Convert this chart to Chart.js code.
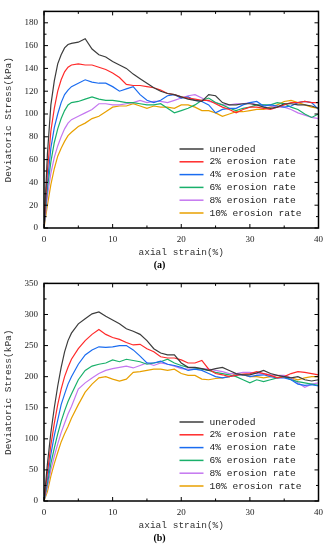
<!DOCTYPE html>
<html>
<head>
<meta charset="utf-8">
<script src="https://cdn.jsdelivr.net/npm/chart.js@4"></script>
<style>
  body { margin: 0; background: #fff; }
  .box { position: absolute; left: 0; width: 329px; }
</style>
</head>
<body>
<div class="box" style="top:0;height:272px"><canvas id="chartA"></canvas></div>
<div class="box" style="top:272px;height:278px"><canvas id="chartB"></canvas></div>
<script>
const strain = [0, 0.5, 1, 1.5, 2, 2.5, 3, 3.5, 4, 5, 6, 7, 8, 9, 10, 11, 12, 13, 14, 15, 16, 17, 18, 19, 20,
  21, 22, 23, 24, 25, 26, 27, 28, 29, 30, 31, 32, 33, 34, 35, 36, 37, 38, 39, 40];

const seriesNames = ['uneroded', '2% erosion rate', '4% erosion rate', '6% erosion rate', '8% erosion rate', '10% erosion rate'];
const seriesColors = ['#3c3c3c', '#ff2a2a', '#1a6cf0', '#19b06a', '#c477f0', '#e8a000'];

// (a)
const aUneroded = [0, 65, 108, 129, 144, 152, 158, 161, 162, 163, 166, 157, 152, 150, 146, 143, 140, 135, 131, 127, 123, 120, 118, 117, 115,
  113, 112, 111, 117, 116, 110, 108, 108, 109, 109, 108, 106, 105, 106, 109, 109, 108, 108, 107, 105];
const aRate2 = [0, 50, 85, 105, 120, 130, 137, 141, 143, 144, 143, 143, 141, 139, 136, 132, 126, 125, 125, 124, 123, 121, 118, 117, 115,
  114, 113, 112, 112, 109, 106, 104, 101, 104, 106, 106, 105, 104, 106, 108, 110, 110, 111, 110, 110];
const aRate4 = [0, 40, 70, 88, 100, 110, 117, 121, 124, 127, 130, 128, 127, 127, 124, 120, 122, 124, 117, 112, 110, 112, 116, 117, 114,
  115, 112, 111, 108, 101, 104, 105, 105, 108, 110, 111, 107, 108, 107, 106, 107, 110, 111, 110, 104];
const aRate6 = [0, 35, 58, 75, 87, 96, 103, 108, 110, 111, 113, 115, 113, 112, 112, 111, 110, 110, 109, 108, 108, 109, 105, 101, 103,
  105, 108, 112, 114, 110, 108, 105, 103, 105, 106, 108, 108, 108, 110, 109, 106, 104, 100, 97, 100];
const aRate8 = [0, 28, 48, 62, 72, 80, 87, 92, 95, 98, 101, 104, 109, 109, 108, 108, 109, 110, 112, 110, 111, 111, 110, 112, 114,
  116, 117, 114, 111, 110, 108, 108, 109, 109, 110, 108, 108, 107, 106, 106, 104, 101, 99, 97, 96];
const aRate10 = [0, 20, 38, 52, 63, 70, 76, 81, 84, 89, 92, 96, 98, 102, 106, 107, 107, 109, 107, 105, 107, 106, 106, 105, 108,
  108, 106, 103, 103, 101, 98, 100, 102, 102, 103, 104, 104, 106, 108, 111, 112, 110, 108, 106, 105];

// (b)
const bUneroded = [0, 60, 110, 150, 185, 215, 240, 258, 270, 285, 293, 301, 304, 297, 291, 285, 277, 273, 268, 258, 245, 238, 235, 235, 222,
  215, 215, 213, 210, 213, 215, 210, 205, 203, 203, 206, 210, 205, 202, 200, 198, 200, 195, 193, 195];
const bRate2 = [0, 45, 90, 125, 155, 180, 200, 215, 228, 245, 258, 268, 276, 268, 263, 260, 255, 251, 252, 245, 240, 232, 230, 230, 227,
  222, 222, 226, 212, 205, 203, 200, 202, 204, 205, 208, 205, 202, 198, 200, 205, 208, 207, 205, 203];
const bRate4 = [0, 35, 75, 105, 130, 155, 172, 188, 200, 220, 235, 243, 248, 247, 248, 250, 250, 243, 233, 222, 222, 225, 220, 218, 215,
  210, 212, 210, 205, 200, 198, 200, 203, 203, 200, 202, 203, 200, 198, 198, 195, 188, 186, 187, 185];
const bRate6 = [0, 28, 60, 85, 108, 128, 145, 160, 172, 195, 210, 217, 220, 222, 227, 224, 228, 226, 224, 220, 222, 224, 228, 222, 218,
  215, 214, 212, 210, 207, 205, 203, 200, 195, 190, 195, 192, 195, 198, 200, 195, 192, 190, 188, 186];
const bRate8 = [0, 22, 50, 72, 92, 110, 125, 140, 152, 180, 190, 198, 205, 210, 213, 215, 217, 214, 218, 222, 218, 222, 220, 217, 213,
  212, 212, 213, 212, 210, 208, 205, 205, 207, 207, 205, 205, 203, 202, 202, 198, 190, 183, 188, 190];
const bRate10 = [0, 15, 40, 60, 78, 95, 108, 120, 133, 155, 175, 188, 198, 200, 196, 193, 196, 207, 208, 210, 212, 212, 210, 212, 205,
  202, 202, 196, 195, 197, 198, 200, 205, 203, 200, 200, 198, 200, 202, 200, 198, 195, 198, 200, 200];

const xTicks = { min: 0, max: 40, step: 10 };
const yTicksA = { min: 0, max: 190, step: 20 };
const yTicksB = { min: 0, max: 350, step: 50 };

const monoFont = 'Liberation Mono';
const serifFont = 'Liberation Serif';

// frame, inward ticks and the legend inside the plot
const framePlugin = {
    id: 'frame',
    afterDraw(chart) {
        const ctx = chart.ctx;
        const { left, right, top, bottom } = chart.chartArea;
        const xs = chart.scales.x, ys = chart.scales.y;
        ctx.save();
        ctx.strokeStyle = '#000';
        ctx.lineWidth = 1.5;
        ctx.strokeRect(left, top, right - left, bottom - top);

        ctx.lineWidth = 1;
        const xo = chart.options.scales.x, yo = chart.options.scales.y;
        for (let v = xo.min; v <= xo.max; v += xo.ticks.stepSize / 2) {
            const px = xs.getPixelForValue(v);
            const len = (v % xo.ticks.stepSize === 0) ? 4 : 2.5;
            ctx.beginPath();
            ctx.moveTo(px, bottom); ctx.lineTo(px, bottom - len);
            ctx.moveTo(px, top); ctx.lineTo(px, top + len);
            ctx.stroke();
        }
        for (let v = yo.min; v <= yo.max; v += yo.ticks.stepSize / 2) {
            const py = ys.getPixelForValue(v);
            const len = (v % yo.ticks.stepSize === 0) ? 4 : 2.5;
            ctx.beginPath();
            ctx.moveTo(left, py); ctx.lineTo(left + len, py);
            ctx.moveTo(right, py); ctx.lineTo(right - len, py);
            ctx.stroke();
        }

        // legend
        ctx.font = '9.6px ' + monoFont;
        ctx.textBaseline = 'middle';
        ctx.fillStyle = '#222';
        chart.data.datasets.forEach((ds, i) => {
            const y = bottom - 79 + i * 12.8;
            ctx.strokeStyle = ds.borderColor;
            ctx.lineWidth = 1.5;
            ctx.beginPath();
            ctx.moveTo(right - 139, y); ctx.lineTo(right - 115, y);
            ctx.stroke();
            ctx.fillText(ds.label, right - 109, y);
        });
        ctx.restore();
    }
};

function makeChart(id, series, yT, tag, pad) {
    const datasets = series.map((vals, i) => ({
        label: seriesNames[i],
        data: strain.map((s, k) => ({ x: s, y: vals[k] })),
        borderColor: seriesColors[i],
        borderWidth: 1.2,
        pointRadius: 0,
        tension: 0,
        fill: false
    }));
    // draw the lightest first so the dark curve lies on top, like the original
    return new Chart(document.getElementById(id), {
        type: 'line',
        data: { datasets },
        plugins: [framePlugin],
        options: {
            responsive: true,
            maintainAspectRatio: false,
            animation: false,
            layout: { padding: pad },
            plugins: {
                legend: { display: false },
                tooltip: { enabled: false },
                title: {
                    display: true, position: 'bottom', text: tag, color: '#000',
                    font: { family: serifFont, weight: 'bold', size: 10 }, padding: 0
                }
            },
            scales: {
                x: {
                    type: 'linear', min: xTicks.min, max: xTicks.max,
                    grid: { display: false, drawTicks: false },
                    border: { display: false },
                    ticks: { stepSize: xTicks.step, padding: 6, color: '#222', font: { family: serifFont, size: 9 }, maxRotation: 0 },
                    title: { display: true, text: 'axial strain(%)', color: '#333', font: { family: monoFont, size: 9.5 }, padding: { top: 0, bottom: 1.3 } },
                    afterFit(s) { s.height = 31; }
                },
                y: {
                    min: yT.min, max: yT.max,
                    grid: { display: false, drawTicks: false },
                    border: { display: false },
                    ticks: { stepSize: yT.step, includeBounds: false, padding: 6, color: '#222', font: { family: serifFont, size: 9 } },
                    title: { display: true, text: 'Deviatoric Stress(kPa)', color: '#333', font: { family: monoFont, size: 9.5 }, padding: { top: 3, bottom: 0 } },
                    afterFit(s) { s.width = 44; }
                }
            }
        }
    });
}

makeChart('chartA', [aUneroded, aRate2, aRate4, aRate6, aRate8, aRate10], yTicksA, '(a)', { top: 5, right: 10, bottom: 1, left: 0 });
makeChart('chartB', [bUneroded, bRate2, bRate4, bRate6, bRate8, bRate10], yTicksB, '(b)', { top: 8, right: 10, bottom: 6, left: 0 });
</script>
</body>
</html>
